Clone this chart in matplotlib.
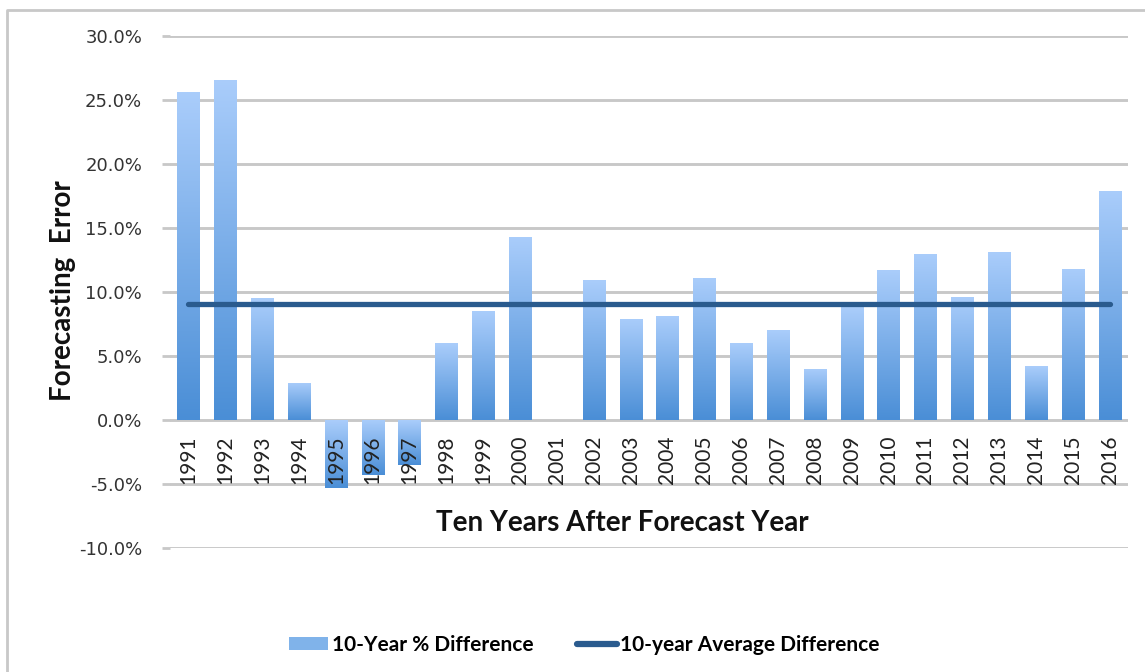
import numpy as np
import matplotlib
matplotlib.use("Agg")
import matplotlib.pyplot as plt
from matplotlib.colors import LinearSegmentedColormap
from matplotlib.lines import Line2D
from matplotlib.patches import Patch
from matplotlib.transforms import offset_copy

years = [str(y) for y in range(1991, 2017)]
pct_diff = [25.6, 26.6, 9.5, 2.9, -5.3, -4.3, -3.5, 6.0, 8.5, 14.3, 0.0,
            10.9, 7.9, 8.1, 11.1, 6.0, 7.0, 4.0, 8.8, 11.7, 13.0, 9.6,
            13.1, 4.2, 11.8, 17.9]
avg_diff = [9.06] * len(years)
y_ticks = [-10, -5, 0, 5, 10, 15, 20, 25, 30]

light = "#aacdfb"
dark = "#4a8ed6"
line_color = "#2a5b8e"
grid_color = "#c8c8c8"

fig = plt.figure(figsize=(11.45, 6.72), dpi=100)
ax = fig.add_axes([170 / 1145, 1 - 548 / 672, (1128 - 170) / 1145, (548 - 36) / 672])

x = np.arange(len(years))
bars = ax.bar(x, pct_diff, width=0.6, color="none", edgecolor="none", zorder=2)

# gradient fill, light on top to darker at the bottom
cmap = LinearSegmentedColormap.from_list("bar", [light, dark])
grad = np.linspace(0, 1, 256).reshape(-1, 1)
for b in bars:
    x0 = b.get_x()
    y0 = b.get_y()
    h = b.get_height()
    lo, hi = min(y0, y0 + h), max(y0, y0 + h)
    if hi - lo <= 0:
        continue
    im = ax.imshow(grad, extent=[x0, x0 + b.get_width(), lo, hi], aspect="auto",
                   cmap=cmap, origin="upper", zorder=2, interpolation="bilinear")
    im.set_clip_path(b)

ax.plot(x, avg_diff, color=line_color, lw=3.8, solid_capstyle="round", zorder=3)

ax.set_xlim(-0.5, len(years) - 0.5)
ax.set_ylim(-10, 30)
ax.set_yticks(y_ticks)
ax.set_yticklabels([f"{v:.1f}%" for v in y_ticks], fontsize=13, color="#333333",
                   family="DejaVu Sans")
ax.yaxis.grid(True, color=grid_color, lw=2.1)
ax.set_axisbelow(True)
ax.tick_params(axis="y", length=6, width=2, color=grid_color, pad=14)
ax.set_xticks([])
for s in ax.spines.values():
    s.set_visible(False)

# category labels sit just under the zero line
trans = offset_copy(ax.transData, fig=fig, x=0, y=-16, units="dots")
for i, lab in enumerate(years):
    ax.text(i, 0, lab, rotation=90, ha="center", va="top", fontsize=15,
            family="Lato", color="#222222", transform=trans, zorder=4)

fig.text(622 / 1145, 1 - 523 / 672, "Ten Years After Forecast Year", ha="center",
         va="center", fontsize=20, fontweight="bold", family="Lato", color="#111111")
fig.text(63 / 1145, 1 - 291 / 672, "Forecasting  Error", ha="center", va="center",
         rotation=90, fontsize=20, fontweight="bold", family="Lato", color="#111111")

handles = [Patch(facecolor="#80b3ea", edgecolor="none"),
           Line2D([], [], color=line_color, lw=4.5, solid_capstyle="round")]
fig.legend(handles, ["10-Year % Difference", "10-year Average Difference"],
           loc="center", bbox_to_anchor=(584 / 1145, 1 - 645 / 672), ncol=2,
           frameon=False, prop={"family": "Lato", "weight": "bold", "size": 15},
           handlelength=1.9, handleheight=0.6, handletextpad=0.15, columnspacing=2.1)

# light chart border (top and left visible)
fig.add_artist(Line2D([7 / 1145, 7 / 1145, 1.0], [0.0, 1 - 10 / 672, 1 - 10 / 672],
                      transform=fig.transFigure, color="#c8c8c8", lw=2))

fig.savefig("out.png", dpi=100, facecolor="white")
